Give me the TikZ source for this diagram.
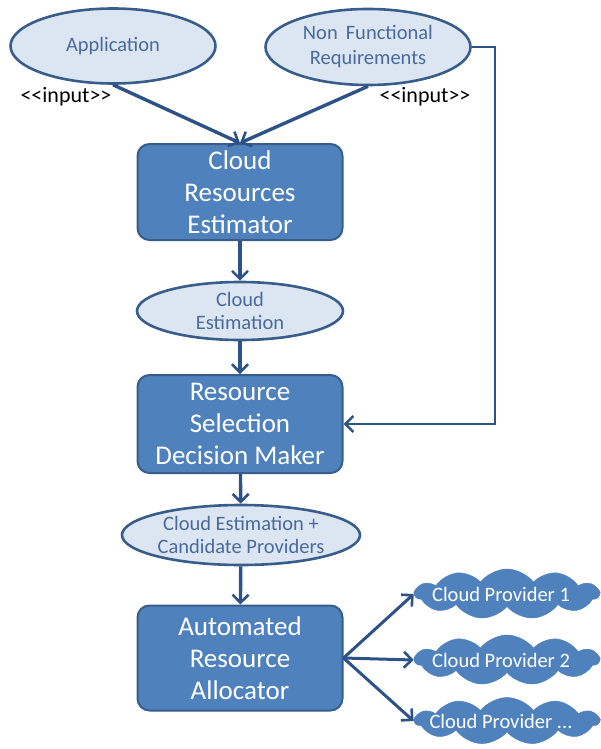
\documentclass[tikz,border=0pt]{standalone}
\usepackage{fontspec}
\setmainfont{Carlito}
\usetikzlibrary{shapes.geometric,shapes.symbols,arrows.meta}
\definecolor{boxfill}{HTML}{4F81BD}
\definecolor{boxline}{HTML}{385D8A}
\definecolor{ellfill}{HTML}{DCE6F2}
\definecolor{elltext}{HTML}{4A6A9C}
\definecolor{arrowc}{HTML}{2C5287}
\tikzset{
  procbox/.style={draw=boxline, fill=boxfill, line width=2pt, rounded corners=12pt,
    minimum width=205pt, minimum height=96pt, text=white, align=center,
    font=\fontsize{27}{32}\selectfont, inner sep=0pt},
  artifact/.style={ellipse, draw=boxline, fill=ellfill, line width=2.6pt, text=elltext,
    align=center, font=\fontsize{20.5}{25}\selectfont, inner sep=0pt},
  provider/.style={cloud, cloud puffs=11, cloud puff arc=105, cloud ignores aspect,
    draw=boxfill, fill=boxfill, minimum width=184pt, minimum height=50pt,
    inner sep=0pt, line width=0.5pt,
    label={[text=white, font=\fontsize{20.5}{22}\selectfont, xshift=-6pt]center:#1}},
  flow/.style={draw=arrowc, line width=3.4pt, -{Straight Barb[length=8pt,width=16pt,line width=2.6pt]}},
  stereo/.style={font=\fontsize{22}{24}\selectfont, text=black}
}
\begin{document}
\begin{tikzpicture}[x=1pt,y=-1pt]
  \useasboundingbox (0,0) rectangle (600,749);
  % input artefacts
  \node[artifact, minimum width=205pt, minimum height=75pt] (app) at (113,46) {Application};
  \node[artifact, minimum width=205pt, minimum height=76pt] (nfr) at (368,47) {Non\, Functional\\Requirements};
  \node[stereo] (inA) at (66,97) {{<}{<}input{>}{>}};
  \node[stereo] (inB) at (425,97) {{<}{<}input{>}{>}};
  % processing steps
  \node[procbox] (est) at (240,192) {Cloud\\Resources\\Estimator};
  \node[artifact, minimum width=206pt, minimum height=58pt] (ce) at (240,311) {Cloud\\[-2pt]Estimation};
  \node[procbox, minimum height=98pt] (sel) at (240,424) {Resource\\Selection\\Decision Maker};
  \node[artifact, minimum width=238pt, minimum height=60pt] (cand) at (241,535) {Cloud Estimation +\\[-2pt]Candidate Providers};
  \node[procbox, minimum height=105pt] (alloc) at (240,658) {Automated\\Resource\\Allocator};
  % providers
  \node[provider={Cloud Provider 1}] (p1) at (507,594) {};
  \node[provider={Cloud Provider 2}] (p2) at (507,660) {};
  \node[provider={Cloud Provider ...}, minimum height=47pt] (p3) at (507,721) {};
  % connectors
  \coordinate (top) at (est.north);
  \draw[flow] (app.south) -- (top);
  \draw[flow] (nfr.south) -- (top);
  \draw[flow] (est) -- (ce);
  \draw[flow] (ce) -- (sel);
  \draw[flow] (sel) -- (cand);
  \draw[flow] (cand) -- (alloc);
  \coordinate (bend) at (495,47);
  \draw[flow, line width=2.6pt] (nfr.east) -- (bend) |- (sel.east);
  \coordinate (fan) at (alloc.east);
  \draw[flow, line width=3pt] (fan) -- (p1.west);
  \draw[flow, line width=3pt] (fan) -- (p2.west);
  \draw[flow, line width=3pt] (fan) -- (p3.west);
\end{tikzpicture}
\end{document}
